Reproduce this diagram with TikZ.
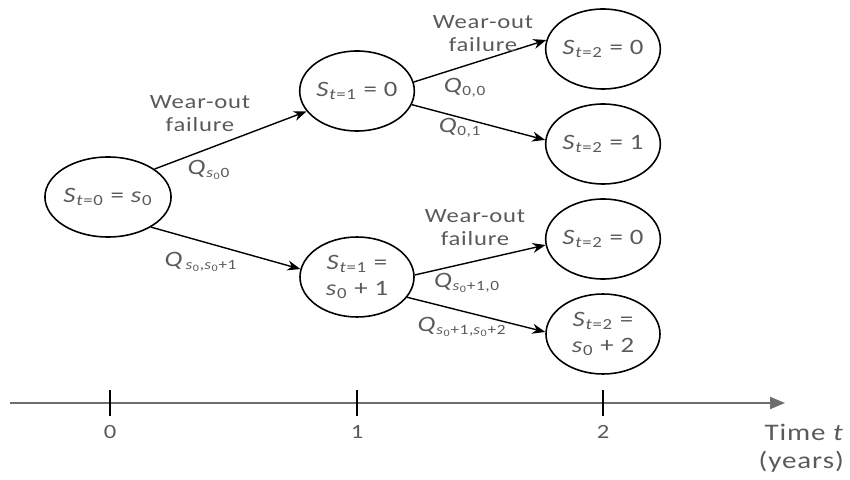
\documentclass[tikz,border=0pt]{standalone}
\usepackage{fontspec}
\setmainfont{Carlito}[FakeStretch=1.22,LetterSpace=4]
\usepackage{xcolor}
\usepackage{tikz}
\usetikzlibrary{arrows.meta,shapes.geometric}
\definecolor{labelgray}{RGB}{90,90,90}
\definecolor{axisgray}{RGB}{110,110,110}
\newcommand{\Sstate}[1]{\textit{S}\textsubscript{\textit{t}=#1}}
\newcommand{\Qtrans}[1]{{\fontsize{12.5}{12.5}\selectfont\textit{Q}}\textsubscript{#1}}

\begin{document}
\begin{tikzpicture}[
    state/.style={ellipse,draw=black,line width=0.9pt,minimum width=2.28cm,minimum height=1.6cm,inner sep=0pt,align=center,text=labelgray,font=\fontsize{12.5}{14.5}\selectfont},
    lbl/.style={align=center,text=labelgray,font=\fontsize{11.5}{13}\selectfont},
    arrow/.style={-{Stealth[length=2.6mm,width=2mm]},line width=0.8pt,draw=black}
  ]
    \useasboundingbox (0,0) rectangle (17,9.58);
    % states
    \node[state] (s0) at (2.16,5.64) {\Sstate{0} = \textit{s}\textsubscript{0}};
    \node[state] (a0) at (7.14,7.76) {\Sstate{1} = 0};
    \node[state] (a1) at (7.14,4.04) {\Sstate{1} =\\\textit{s}\textsubscript{0} + 1};
    \node[state] (b0) at (12.06,8.60) {\Sstate{2} = 0};
    \node[state] (b1) at (12.06,6.70) {\Sstate{2} = 1};
    \node[state] (c0) at (12.06,4.80) {\Sstate{2} = 0};
    \node[state] (c2) at (12.06,2.90) {\Sstate{2} =\\\textit{s}\textsubscript{0} + 2};
    % transitions
    \draw[arrow] (s0.31) -- (a0.202);
    \draw[arrow] (s0.-35) -- (a1.172);
    \draw[arrow] (a0.9) -- (b0.171);
    \draw[arrow] (a0.-14) -- (b1.176);
    \draw[arrow] (a1.2) -- (c0.186);
    \draw[arrow] (a1.-22) -- (c2.178);
    % labels
    \node[lbl] (wf1) at (4.00,7.30) {Wear-out\\failure};
    \node[lbl] (wf2) at (9.66,8.90) {Wear-out\\failure};
    \node[lbl] (wf3) at (9.50,5.02) {Wear-out\\failure};
    \node[lbl] (q1) at (4.18,6.18) {\Qtrans{\textit{s}\textsubscript{0}0}};
    \node[lbl] (q2) at (4.02,4.34) {\Qtrans{\,\textit{s}\textsubscript{0},\textit{s}\textsubscript{0}+1}};
    \node[lbl] (q3) at (9.30,7.82) {\Qtrans{0,0}};
    \node[lbl] (q4) at (9.20,7.02) {\Qtrans{0,1}};
    \node[lbl] (q5) at (9.34,3.92) {\Qtrans{\textit{s}\textsubscript{0}+1,0}};
    \node[lbl] (q6) at (9.24,3.04) {\Qtrans{\textit{s}\textsubscript{0}+1,\textit{s}\textsubscript{0}+2}};
    % time axis
    \coordinate (axstart) at (0.2,1.52);
    \coordinate (axend) at (15.7,1.52);
    \draw[-{Triangle[length=3mm,width=2.4mm]},line width=1.2pt,draw=axisgray] (axstart) -- (axend);
    \coordinate (t0) at (2.2,1.52);
    \coordinate (t1) at (7.14,1.52);
    \coordinate (t2) at (12.06,1.52);
    \draw[line width=0.9pt] (t0) ++(0,0.26) -- ++(0,-0.52);
    \draw[line width=0.9pt] (t1) ++(0,0.26) -- ++(0,-0.52);
    \draw[line width=0.9pt] (t2) ++(0,0.26) -- ++(0,-0.52);
    \node[lbl] (n0) at (2.2,0.94) {0};
    \node[lbl] (n1) at (7.14,0.94) {1};
    \node[lbl] (n2) at (12.06,0.94) {2};
    \node[lbl,anchor=east,font=\fontsize{13.5}{15}\selectfont] (tlbl) at (17.0,0.94) {Time \textit{t}};
    \node[lbl,anchor=east,font=\fontsize{13.5}{15}\selectfont] (ylbl) at (17.0,0.34) {(years)};
  \end{tikzpicture}
\end{document}
